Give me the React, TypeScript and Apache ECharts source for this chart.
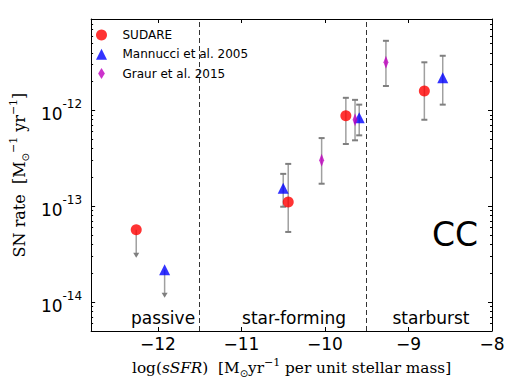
import React, { useEffect, useRef } from "react";
import * as echarts from "echarts";

// ---- data (x = log sSFR, y = SN rate) ----
const xTicks = [-12, -11, -10, -9, -8];
const yDecades = [-14, -13, -12];

const sudareX = [-12.26, -10.44, -9.75, -8.81];
const sudareY = [5.7e-14, 1.11e-13, 8.8e-13, 1.6e-12];
const sudareLow = [2.9e-14, 5.4e-14, 4.47e-13, 8.0e-13];
const sudareHigh = [5.7e-14, 2.77e-13, 1.355e-12, 3.18e-12];
const sudareLimit = [1, 0, 0, 0];

const mannucciX = [-11.92, -10.5, -9.59, -8.59];
const mannucciY = [2.18e-14, 1.54e-13, 8.4e-13, 2.19e-12];
const mannucciLow = [1.11e-14, 9.9e-14, 5.5e-13, 1.15e-12];
const mannucciHigh = [2.18e-14, 2.18e-13, 1.15e-12, 3.72e-12];
const mannucciLimit = [1, 0, 0, 0];

const graurX = [-10.04, -9.64, -9.27];
const graurY = [3.03e-13, 8.0e-13, 3.18e-12];
const graurLow = [1.72e-13, 4.88e-13, 1.8e-12];
const graurHigh = [5.15e-13, 1.29e-12, 5.33e-12];
const graurLimit = [0, 0, 0];

const regionBounds = [-11.5, -9.5];
const seriesNames = ["SUDARE", "Mannucci et al. 2005", "Graur et al. 2015"];

const X_MIN = -12.8;
const X_MAX = -8;
const Y_MIN = Math.log10(5e-15);
const Y_MAX = Math.log10(9e-12);

const DIAMOND = "path://M4,0L8,6.5L4,13L0,6.5Z";
const TRIANGLE = "path://M5,0L10,10L0,10Z";
const SANS = "DejaVu Sans";
const SERIF = "DejaVu Serif";

const lg = (v: number) => Math.log10(v);

function minorTicks(): number[] {
  const out: number[] = [];
  for (let d = -15; d <= -12; d++) {
    for (let m = 2; m <= 9; m++) {
      const v = Math.log10(m) + d;
      if (v > Y_MIN + 1e-9 && v < Y_MAX - 1e-9) out.push(v);
    }
  }
  out.push(Y_MIN);
  return out;
}

function errData(x: number[], lo: number[], hi: number[], lim: number[]) {
  return x.map((xv, i) => [xv, lg(lo[i]), lg(hi[i]), lim[i]]);
}

export default function App() {
  const ref = useRef<HTMLDivElement>(null);

  useEffect(() => {
    if (!ref.current) return;
    const chart = echarts.init(ref.current, null, { renderer: "svg" });

    const errAll = [
      ...errData(sudareX, sudareLow, sudareHigh, sudareLimit),
      ...errData(mannucciX, mannucciLow, mannucciHigh, mannucciLimit),
      ...errData(graurX, graurLow, graurHigh, graurLimit),
    ];

    const minors = minorTicks();
    const yLabelFmt = (v: number) => `{b|10}{s|${Math.round(v)}}`;
    const xLabelFmt = (v: number) =>
      (v < 0 ? "\u2212" : "") + String(Math.abs(Math.round(v)));

    const frame = { show: true, lineStyle: { color: "#000", width: 1 } };

    const option: any = {
      animation: false,
      backgroundColor: "#fff",
      grid: { left: 88, right: 26, top: 19, bottom: 59 },
      legend: {
        orient: "vertical",
        left: 96,
        top: 29,
        padding: 0,
        itemWidth: 32,
        itemHeight: 11,
        itemGap: 7.3,
        symbolKeepAspect: true,
        textStyle: { fontFamily: SANS, fontSize: 12, color: "#000", lineHeight: 11 },
        data: [
          { name: seriesNames[0], icon: "circle" },
          { name: seriesNames[1], icon: TRIANGLE },
          { name: seriesNames[2], icon: DIAMOND },
        ],
      },
      xAxis: [
        {
          type: "value",
          min: X_MIN,
          max: X_MAX,
          position: "bottom",
          axisLine: frame,
          splitLine: { show: false },
          axisTick: { inside: true, length: 4, lineStyle: { color: "#000" }, customValues: xTicks },
          axisLabel: {
            customValues: xTicks,
            formatter: xLabelFmt,
            fontFamily: SANS,
            fontSize: 17,
            color: "#000",
            margin: 4,
          },
          name:
            "{n|log(}{i|sSFR}{n|)  [M}{sub|\u2299}{n|yr}{sup|\u22121}{n| per unit stellar mass]}",
          nameLocation: "middle",
          nameGap: 24,
          nameTextStyle: {
            rich: {
              n: { fontFamily: SERIF, fontSize: 15.3, color: "#000", lineHeight: 22, verticalAlign: "middle" },
              i: { fontFamily: SERIF, fontStyle: "italic", fontSize: 15.3, color: "#000", lineHeight: 22, verticalAlign: "middle" },
              sub: { fontFamily: SANS, fontSize: 10, color: "#000", lineHeight: 10, verticalAlign: "bottom" },
              sup: { fontFamily: SERIF, fontSize: 11, color: "#000", lineHeight: 12, verticalAlign: "top" },
            },
          },
        },
        {
          type: "value",
          min: X_MIN,
          max: X_MAX,
          position: "top",
          axisLine: frame,
          splitLine: { show: false },
          axisTick: { inside: true, length: 4, lineStyle: { color: "#000" }, customValues: xTicks },
          axisLabel: { show: false },
        },
      ],
      yAxis: [
        {
          type: "value",
          min: Y_MIN,
          max: Y_MAX,
          position: "left",
          axisLine: frame,
          splitLine: { show: false },
          axisTick: { inside: true, length: 4, lineStyle: { color: "#000" }, customValues: yDecades },
          axisLabel: {
            customValues: yDecades,
            formatter: yLabelFmt,
            margin: 9,
            rich: {
              b: { fontFamily: SANS, fontSize: 17, color: "#000", lineHeight: 24, verticalAlign: "bottom" },
              s: { fontFamily: SANS, fontSize: 12, color: "#000", lineHeight: 14, verticalAlign: "top" },
            },
          },
          name: "{n|SN rate  [M}{sub|\u2299}{sup|\u22121}{n| yr}{sup|\u22121}{n|]}",
          nameLocation: "middle",
          nameGap: 53,
          nameTextStyle: {
            rich: {
              n: { fontFamily: SERIF, fontSize: 16, color: "#000", lineHeight: 22, verticalAlign: "middle" },
              sub: { fontFamily: SANS, fontSize: 10, color: "#000", lineHeight: 10, verticalAlign: "bottom" },
              sup: { fontFamily: SERIF, fontSize: 11, color: "#000", lineHeight: 12, verticalAlign: "top" },
            },
          },
        },
        {
          type: "value",
          min: Y_MIN,
          max: Y_MAX,
          position: "left",
          axisLine: { show: false },
          splitLine: { show: false },
          axisTick: { inside: true, length: 2, lineStyle: { color: "#000" }, customValues: minors },
          axisLabel: { show: false },
        },
        {
          type: "value",
          min: Y_MIN,
          max: Y_MAX,
          position: "right",
          axisLine: frame,
          splitLine: { show: false },
          axisTick: { inside: true, length: 4, lineStyle: { color: "#000" }, customValues: yDecades },
          axisLabel: { show: false },
        },
        {
          type: "value",
          min: Y_MIN,
          max: Y_MAX,
          position: "right",
          axisLine: { show: false },
          splitLine: { show: false },
          axisTick: { inside: true, length: 2, lineStyle: { color: "#000" }, customValues: minors },
          axisLabel: { show: false },
        },
      ],
      series: [
        {
          type: "custom",
          name: "errors",
          z: 1,
          silent: true,
          data: errAll,
          renderItem: (params: any, api: any) => {
            const x = api.value(0);
            const lo = api.value(1);
            const hi = api.value(2);
            const lim = api.value(3);
            const pLo = api.coord([x, lo]);
            const pHi = api.coord([x, hi]);
            const lineCol = "#a0a0a0";
            const capCol = "#7f7f7f";
            if (lim) {
              return {
                type: "group",
                children: [
                  {
                    type: "line",
                    shape: { x1: pHi[0], y1: pHi[1], x2: pLo[0], y2: pLo[1] - 4 },
                    style: { stroke: lineCol, lineWidth: 1.5 },
                  },
                  {
                    type: "polygon",
                    shape: {
                      points: [
                        [pLo[0] - 3, pLo[1] - 5],
                        [pLo[0] + 3, pLo[1] - 5],
                        [pLo[0], pLo[1]],
                      ],
                    },
                    style: { fill: capCol },
                  },
                ],
              };
            }
            return {
              type: "group",
              children: [
                {
                  type: "line",
                  shape: { x1: pHi[0], y1: pHi[1], x2: pLo[0], y2: pLo[1] },
                  style: { stroke: lineCol, lineWidth: 1.5 },
                },
                {
                  type: "line",
                  shape: { x1: pHi[0] - 3, y1: pHi[1], x2: pHi[0] + 3, y2: pHi[1] },
                  style: { stroke: capCol, lineWidth: 2 },
                },
                {
                  type: "line",
                  shape: { x1: pLo[0] - 3, y1: pLo[1], x2: pLo[0] + 3, y2: pLo[1] },
                  style: { stroke: capCol, lineWidth: 2 },
                },
              ],
            };
          },
          markLine: {
            silent: true,
            symbol: "none",
            label: { show: false },
            lineStyle: { color: "#333", type: [5, 3], width: 1 },
            data: regionBounds.map((v) => ({ xAxis: v })),
          },
        },
        {
          type: "scatter",
          name: seriesNames[0],
          z: 3,
          symbol: "circle",
          symbolSize: 11,
          itemStyle: { color: "#ff0000" },
          data: sudareX.map((x, i) => [x, lg(sudareY[i])]),
        },
        {
          type: "scatter",
          name: seriesNames[1],
          z: 3,
          symbol: "triangle",
          symbolSize: [11, 11],
          itemStyle: { color: "#0000ff" },
          data: mannucciX.map((x, i) => [x, lg(mannucciY[i])]),
        },
        {
          type: "scatter",
          name: seriesNames[2],
          z: 3,
          symbol: DIAMOND,
          symbolSize: [8, 13],
          symbolKeepAspect: true,
          itemStyle: { color: "#bf00bf" },
          data: graurX.map((x, i) => [x, lg(graurY[i])]),
        },
      ],
      graphic: [
        { type: "text", x: 163, y: 318, style: { text: "passive", font: `17px '${SANS}'`, fill: "#000", align: "center", verticalAlign: "middle" } },
        { type: "text", x: 294, y: 318, style: { text: "star-forming", font: `17px '${SANS}'`, fill: "#000", align: "center", verticalAlign: "middle" } },
        { type: "text", x: 431, y: 318, style: { text: "starburst", font: `17px '${SANS}'`, fill: "#000", align: "center", verticalAlign: "middle" } },
        { type: "text", x: 455, y: 234, style: { text: "CC", font: `33px '${SANS}'`, fill: "#000", align: "center", verticalAlign: "middle" } },
      ],
    };

    chart.setOption(option);
    return () => chart.dispose();
  }, []);

  return (
    <div
      ref={ref}
      style={{ position: "fixed", left: 0, top: 0, width: 518, height: 390, background: "#fff" }}
    />
  );
}
